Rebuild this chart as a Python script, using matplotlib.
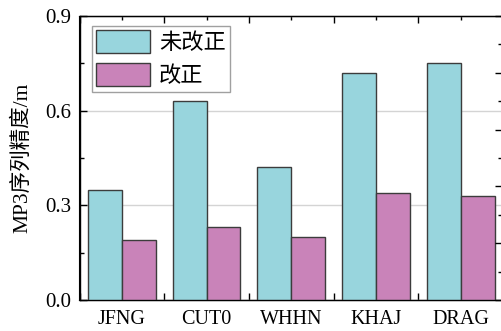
import matplotlib
matplotlib.use("Agg")
import matplotlib.pyplot as plt
from matplotlib.ticker import MultipleLocator, FixedLocator, NullFormatter
import numpy as np

stations = ["JFNG", "CUT0", "WHHN", "KHAJ", "DRAG"]
uncorrected = [0.35, 0.63, 0.42, 0.72, 0.75]
corrected = [0.19, 0.23, 0.20, 0.34, 0.33]
series_labels = ["未改正", "改正"]
ylabel = "MP3序列精度/m"

fonts = ["Liberation Serif", "Noto Sans CJK SC"]
plt.rcParams["font.family"] = fonts

fig = plt.figure(figsize=(5.01, 3.31), dpi=100)
ax = fig.add_axes([79.5 / 501, 31 / 331, 423.5 / 501, 284 / 331])

x = np.arange(1, len(stations) + 1)
w = 0.4
edge = "#3c3c3c"
ax.bar(x - w / 2, uncorrected, w, color="#98d5dd", edgecolor=edge,
       linewidth=1.0, label=series_labels[0], zorder=3)
ax.bar(x + w / 2, corrected, w, color="#c983b9", edgecolor=edge,
       linewidth=1.0, label=series_labels[1], zorder=3)

ax.set_xlim(0.5, len(stations) + 0.5)
ax.set_ylim(0, 0.9)

# group boundaries as major ticks, station names on the minor ticks
ax.xaxis.set_major_locator(FixedLocator(np.arange(0.5, len(stations) + 1, 1.0)))
ax.xaxis.set_major_formatter(NullFormatter())
ax.xaxis.set_minor_locator(FixedLocator(x))
ax.set_xticks(x, stations, minor=True)
ax.tick_params(axis="x", which="major", direction="in", length=5, width=1,
               top=True, bottom=True)
ax.tick_params(axis="x", which="minor", direction="in", length=3, width=1,
               top=True, bottom=True, labelsize=14.5, pad=7)

ax.yaxis.set_major_locator(MultipleLocator(0.3))
ax.yaxis.set_minor_locator(MultipleLocator(0.15))
ax.set_yticks([0, 0.3, 0.6, 0.9], ["0.0", "0.3", "0.6", "0.9"])
ax.tick_params(axis="y", which="major", direction="in", length=5, width=1,
               labelsize=15, pad=6, right=False)
ax.tick_params(axis="y", which="minor", direction="in", length=3, width=1,
               right=False)

ax.grid(axis="y", which="major", color="#d4d4d4", linewidth=1.0, zorder=0)
for s in ax.spines.values():
    s.set_linewidth(1.0)

ax.set_ylabel(ylabel, fontsize=15.5, labelpad=9)

# secondary scale on the right
ax2 = ax.twinx()
ax2.set_ylim(0, 1.0)
ax2.yaxis.set_major_locator(MultipleLocator(0.2))
ax2.yaxis.set_minor_locator(MultipleLocator(0.1))
ax2.yaxis.set_major_formatter(NullFormatter())
ax2.tick_params(axis="y", which="major", direction="in", length=6, width=1)
ax2.tick_params(axis="y", which="minor", direction="in", length=3.5, width=1)

leg = ax.legend(loc="upper left", bbox_to_anchor=(0.0295, 0.965),
                borderaxespad=0, fontsize=16, handlelength=2.4,
                handleheight=1.22, labelspacing=0.4, handletextpad=0.42,
                borderpad=0.2, fancybox=False, framealpha=1,
                edgecolor="#a0a0a0")
leg.get_frame().set_linewidth(1.0)
leg.set_zorder(5)

fig.savefig("out.png", dpi=100)
